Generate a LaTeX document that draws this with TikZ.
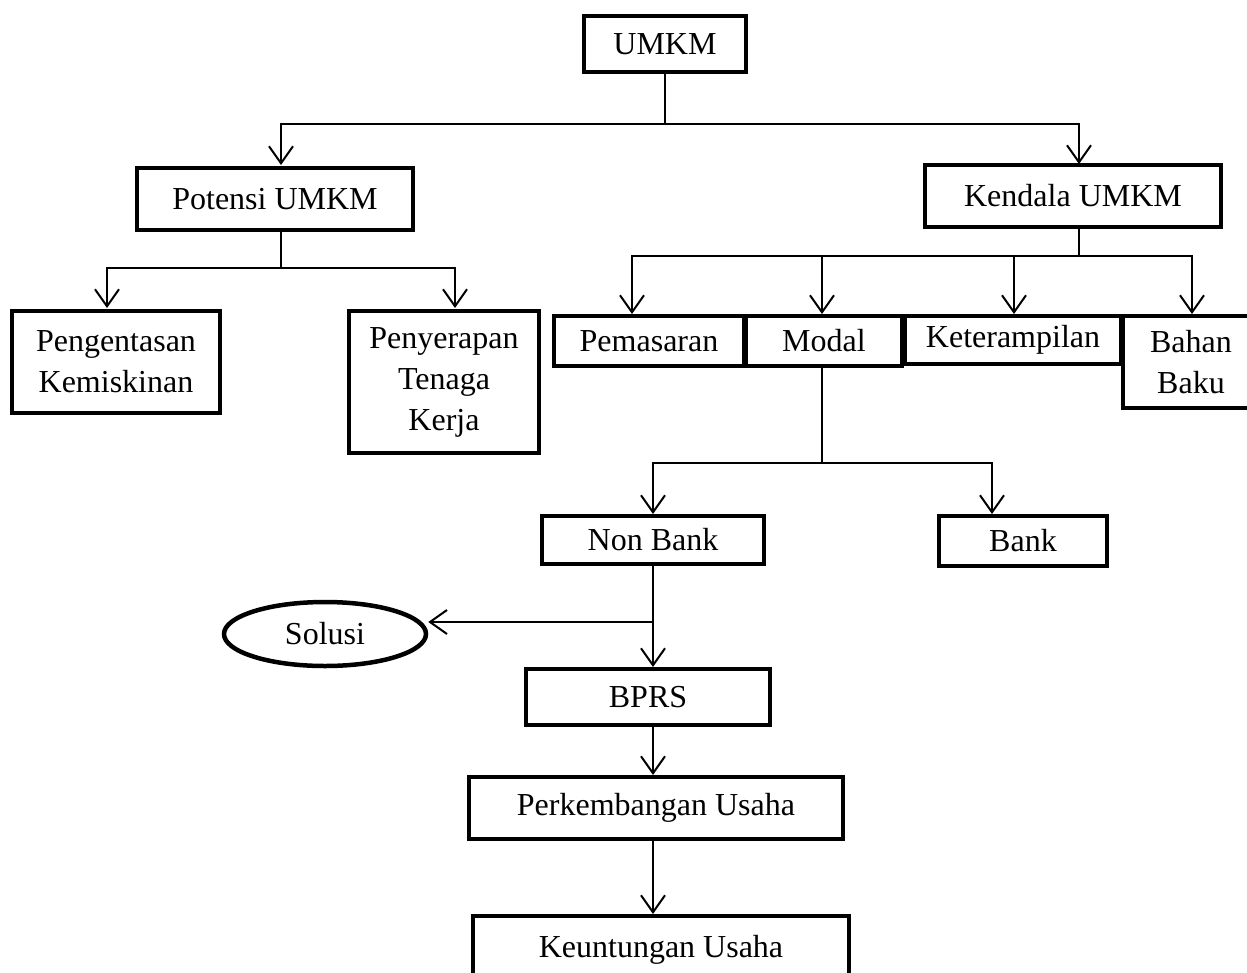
\documentclass[tikz,border=0pt]{standalone}
\usepackage{fontspec}
\setmainfont{Liberation Serif}
\usetikzlibrary{arrows.meta,shapes.geometric}
\begin{document}
\begin{tikzpicture}[x=1pt,y=-1pt,
  box/.style={draw, line width=4.5pt, align=center, inner sep=0pt, font=\fontsize{32}{41}\selectfont},
  oval/.style={draw, ellipse, line width=4.5pt, inner sep=0pt, font=\fontsize{32}{41}\selectfont},
  conn/.style={line width=1.8pt},
  arr/.style={conn, -{Straight Barb[length=17pt,width=24pt,line width=2pt]}}]
\useasboundingbox (0,0) rectangle (1247,972);
\fill[white] (0,0) rectangle (1247,972);

\node[box, minimum width=162, minimum height=56] (umkm) at (665,44) {UMKM};
\node[box, minimum width=276, minimum height=62] (potensi) at (275,199) {Potensi UMKM};
\node[box, minimum width=296, minimum height=62] (kendala) at (1073,196) {Kendala UMKM};
\node[box, minimum width=208, minimum height=102] (peng) at (116,362) {Pengentasan\\Kemiskinan};
\node[box, minimum width=190, minimum height=142] (peny) at (444,382) {Penyerapan\\Tenaga\\Kerja};
\node[box, minimum width=190, minimum height=50] (pem) at (649,341) {Pemasaran};
\node[box, minimum width=156, minimum height=50] (modal) at (824,341) {Modal};
\node[box, minimum width=217, minimum height=48] (ket) at (1013,340) {Keterampilan};
\node[box, minimum width=136, minimum height=92] (bahan) at (1191,362) {Bahan\\Baku};
\node[box, minimum width=222, minimum height=48] (nonbank) at (653,540) {Non Bank};
\node[box, minimum width=168, minimum height=50] (bank) at (1023,541) {Bank};
\node[oval, minimum width=202, minimum height=64] (solusi) at (325,634) {Solusi};
\node[box, minimum width=244, minimum height=56] (bprs) at (648,697) {BPRS};
\node[box, minimum width=374, minimum height=62] (perk) at (656,808) {Perkembangan Usaha};
\node[box, minimum width=376, minimum height=68] (keun) at (661,950) {Keuntungan Usaha};

% UMKM branches
\coordinate (j1) at (665,124);
\draw[conn] (umkm.south) -- (j1);
\draw[arr] (j1) -| (281,165);
\draw[arr] (j1) -| (1079,164);

% Potensi branches
\coordinate (j2) at (281,268);
\draw[conn] (potensi.south -| j2) -- (j2);
\draw[arr] (j2) -| (107,308);
\draw[arr] (j2) -| (455,308);

% Kendala branches
\coordinate (j3) at (1079,256);
\draw[conn] (kendala.south -| j3) -- (j3);
\draw[arr] (j3) -| (632,314);
\draw[arr] (j3) -| (822,314);
\draw[arr] (j3) -| (1014,314);
\draw[arr] (j3) -| (1192,314);

% Modal branches
\coordinate (j4) at (822,463);
\draw[conn] (modal.south -| j4) -- (j4);
\draw[arr] (j4) -| (653,514);
\draw[arr] (j4) -| (992,514);

% Non Bank to BPRS and Solusi
\coordinate (j5) at (653,622);
\draw[arr] (nonbank.south -| j5) -- (653,667);
\draw[arr] (j5) -- (solusi.east |- j5);

\draw[arr] (bprs.south -| j5) -- (653,775);
\draw[arr] (perk.south -| j5) -- (653,914);
\end{tikzpicture}
\end{document}
